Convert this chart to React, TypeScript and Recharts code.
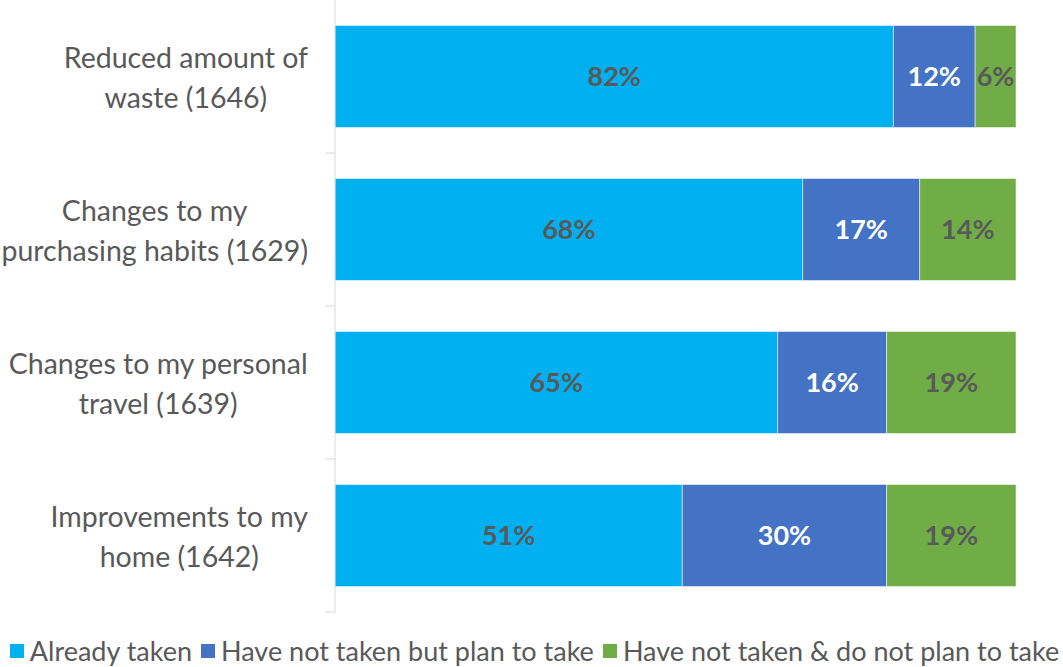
import { BarChart, Bar, XAxis, YAxis, LabelList } from 'recharts';

const categories = [
  ['Reduced amount of', 'waste (1646)'],
  ['Changes to my', 'purchasing habits (1629)'],
  ['Changes to my personal', 'travel (1639)'],
  ['Improvements to my', 'home (1642)'],
];
const alreadyTaken = [82, 68, 65, 51];
const planToTake = [12, 17, 16, 30];
const noPlan = [6, 14, 19, 19];

const series = [
  { key: 'taken', name: 'Already taken', color: '#00B0F0', label: '#595959' },
  { key: 'plan', name: 'Have not taken but plan to take', color: '#4472C4', label: '#ffffff' },
  { key: 'noplan', name: 'Have not taken & do not plan to take', color: '#70AD47', label: '#595959' },
];

const data = categories.map((c, i) => ({
  name: c.join(' '),
  lines: c,
  taken: alreadyTaken[i],
  plan: planToTake[i],
  noplan: noPlan[i],
}));

const FONT = 'Lato, "Open Sans", sans-serif';
const TICK_SIZE = 28.5;

let ctx: CanvasRenderingContext2D | null = null;
function textWidth(s: string) {
  if (!ctx) ctx = document.createElement('canvas').getContext('2d');
  if (!ctx) return s.length * 13;
  ctx.font = `${TICK_SIZE}px ${FONT}`;
  return ctx.measureText(s).width;
}

function CategoryTick(props: any) {
  const { x, y, payload, index } = props;
  const row = data.find((d) => d.name === payload.value);
  const lines = row ? row.lines : [String(payload.value)];
  // tick x sits tickSize + tickMargin left of the axis line
  const axisX = x + 8;
  const right = axisX - 27;
  const w = Math.max(...lines.map(textWidth));
  const cx = right - w / 2;
  const half = payload.offset ?? 76.5;
  return (
    <g>
      {index > 0 && (
        <line x1={axisX - 10} x2={axisX} y1={y - half} y2={y - half} stroke="#d9d9d9" />
      )}
      {index === data.length - 1 && (
        <line x1={axisX - 10} x2={axisX} y1={y + half} y2={y + half} stroke="#d9d9d9" />
      )}
      <text x={cx} y={y} textAnchor="middle" fill="#595959" fontSize={TICK_SIZE} fontFamily={FONT}>
        {lines.map((l, i) => (
          <tspan key={i} x={cx} dy={i === 0 ? -9 : 40}>
            {l}
          </tspan>
        ))}
      </text>
    </g>
  );
}

export default function App() {
  return (
    <div style={{ position: 'absolute', left: 0, top: 0, width: 1063, height: 667, background: '#fff' }}>
      <BarChart
        width={1063}
        height={667}
        data={data}
        layout="vertical"
        stackOffset="expand"
        barCategoryGap="16.67%"
        margin={{ top: 0, right: 47, bottom: 55, left: 0 }}
      >
        <XAxis type="number" hide domain={[0, 1]} />
        <YAxis
          type="category"
          dataKey="name"
          width={335}
          axisLine={{ stroke: '#d9d9d9' }}
          tickLine={false}
          tick={<CategoryTick />}
          interval={0}
        />
        {series.map((s) => (
          <Bar
            key={s.key}
            dataKey={s.key}
            stackId="a"
            fill={s.color}
            stroke="#ffffff"
            strokeWidth={0.5}
            isAnimationActive={false}
          >
            <LabelList
              dataKey={s.key}
              position="center"
              formatter={(v: any) => `${v}%`}
              fill={s.label}
              fontSize={27}
              fontWeight="bold"
              fontFamily={FONT}
            />
          </Bar>
        ))}
      </BarChart>
      <div
        style={{
          position: 'absolute',
          top: 634,
          left: 5,
          width: 1068,
          display: 'flex',
          justifyContent: 'center',
          fontFamily: FONT,
          fontSize: 27,
          color: '#595959',
          whiteSpace: 'nowrap',
        }}
      >
        {series.map((s) => (
          <div key={s.key} style={{ display: 'flex', alignItems: 'center', marginRight: 9 }}>
            <span style={{ width: 14, height: 14, background: s.color, marginRight: 6, display: 'inline-block' }} />
            <span>{s.name}</span>
          </div>
        ))}
      </div>
    </div>
  );
}
